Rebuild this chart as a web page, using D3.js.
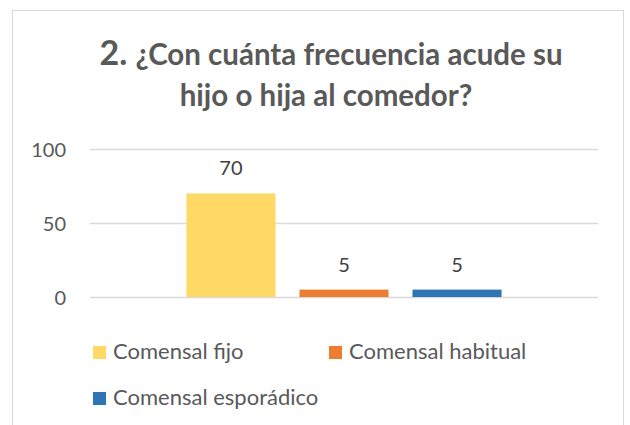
<!DOCTYPE html>
<html>
<head>
<meta charset="utf-8">
<script src="https://cdn.jsdelivr.net/npm/d3@7"></script>
<style>
  html, body { margin: 0; padding: 0; background: #fff; }
  svg { display: block; }
  text { font-family: Lato, "Open Sans", sans-serif; }
</style>
</head>
<body>
<div id="svg-container"></div>
<script>
////////////////////////////  Data  ////////////////////////////
const category = [""];
const series = ["Comensal fijo", "Comensal habitual", "Comensal esporádico"];
const values = [70, 5, 5];
const colors = ["#FFD966", "#ED7D31", "#2E75B6"];
const yTicks = [0, 50, 100];
const titleNum = "2.";
const titleLine1 = "¿Con cuánta frecuencia acude su";
const titleLine2 = "hijo o hija al comedor?";

////////////////////////////  Init  ////////////////////////////
const width = 630;
const height = 425;
const margin = { top: 149, right: 32, bottom: 128, left: 90 };

const svg = d3.select("#svg-container")
  .append("svg")
  .attr("width", width)
  .attr("height", height);

// chart frame
svg.append("rect")
  .attr("x", 12.5)
  .attr("y", 10.5)
  .attr("width", 611)
  .attr("height", 430)
  .attr("fill", "#fff")
  .attr("stroke", "#d9d9d9")
  .attr("stroke-width", 1);

// scales
const y = d3.scaleLinear()
  .domain([0, 100])
  .range([height - margin.bottom, margin.top]);

const x0 = d3.scaleBand()
  .domain(category)
  .range([margin.left, width - margin.right])
  .paddingOuter(0.306);

const x1 = d3.scaleBand()
  .domain(series)
  .range([0, x0.bandwidth()])
  .paddingInner(0.212);

const color = d3.scaleOrdinal().domain(series).range(colors);

// title
const title = svg.append("text")
  .attr("x", 331)
  .attr("y", 65)
  .attr("text-anchor", "middle")
  .attr("fill", "#595959")
  .attr("font-weight", "bold");
title.append("tspan").attr("font-size", 34).text(titleNum + " ");
title.append("tspan").attr("font-size", 29.5).text(titleLine1);

svg.append("text")
  .attr("x", 326)
  .attr("y", 106)
  .attr("text-anchor", "middle")
  .attr("fill", "#595959")
  .attr("font-weight", "bold")
  .attr("font-size", 29.5)
  .text(titleLine2);

// gridlines + y axis
const yAxis = svg.append("g")
  .attr("transform", `translate(${margin.left},0)`)
  .call(d3.axisLeft(y).tickValues(yTicks).tickSize(-(width - margin.left - margin.right)).tickPadding(24));

yAxis.select(".domain").remove();
yAxis.selectAll(".tick line")
  .attr("stroke", "#d9d9d9")
  .attr("stroke-width", 1.5);
yAxis.selectAll(".tick text")
  .attr("fill", "#595959")
  .attr("font-size", 20)
  .attr("font-family", "Lato, sans-serif")
  .attr("dy", "0.36em");

// bars
const rows = series.map((s, i) => ({ key: s, value: values[i] }));

const group = svg.append("g")
  .attr("transform", `translate(${x0(category[0])},0)`);

group.selectAll("rect")
  .data(rows)
  .enter()
  .append("rect")
  .attr("x", (d) => x1(d.key))
  .attr("y", (d) => y(d.value))
  .attr("width", x1.bandwidth())
  .attr("height", (d) => y(0) - y(d.value))
  .attr("fill", (d) => color(d.key));

// data labels
group.selectAll(".label")
  .data(rows)
  .enter()
  .append("text")
  .attr("class", "label")
  .attr("x", (d) => x1(d.key) + x1.bandwidth() / 2)
  .attr("y", (d) => y(d.value) - 18)
  .attr("text-anchor", "middle")
  .attr("fill", "#404040")
  .attr("font-size", 20)
  .text((d) => d.value);

// legend
const legendPos = [[93, 346], [329, 346], [93, 392]];

const legend = svg.selectAll(".legend")
  .data(series)
  .enter()
  .append("g")
  .attr("class", "legend")
  .attr("transform", (d, i) => `translate(${legendPos[i][0]},${legendPos[i][1]})`);

legend.append("rect")
  .attr("width", 13)
  .attr("height", 13)
  .attr("fill", (d) => color(d));

legend.append("text")
  .attr("x", 20)
  .attr("y", 13)
  .attr("fill", "#595959")
  .attr("font-size", 22)
  .text((d) => d);
</script>
</body>
</html>
